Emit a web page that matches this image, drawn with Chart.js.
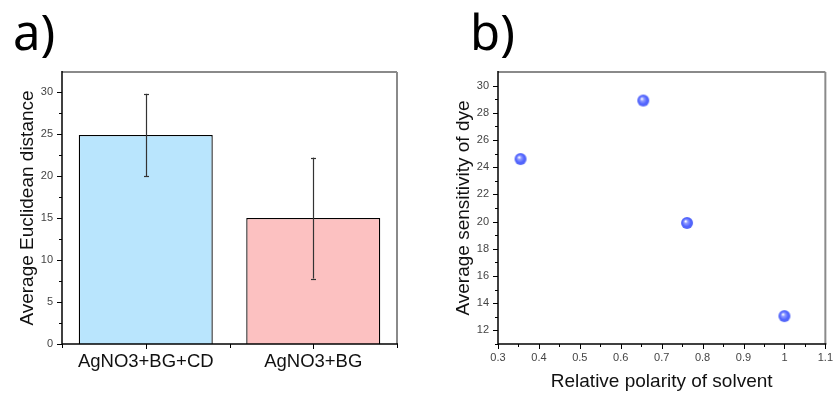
<!DOCTYPE html>
<html><head><meta charset="utf-8">
<script src="https://cdn.jsdelivr.net/npm/chart.js@4.4.1/dist/chart.umd.min.js"></script>
<style>
html,body{margin:0;padding:0;background:#fff;}
#wrap{position:relative;width:840px;height:394px;overflow:hidden;background:#fff;}
.c{position:absolute;top:0;width:420px;height:394px;}
.lab{position:absolute;font-family:"Noto Sans";font-size:49px;line-height:50px;color:#000;}
</style></head><body>
<div id="wrap">
<div class="c" style="left:0"><canvas id="ca" width="420" height="394"></canvas></div>
<div class="c" style="left:420px"><canvas id="cb" width="420" height="394"></canvas></div>
<div class="lab" style="left:13px;top:6px">a)</div>
<div class="lab" style="left:470px;top:6px">b)</div>
</div>
<script>
// ---- data ----
const barCategories = ['AgNO3+BG+CD', 'AgNO3+BG'];
const barValues = [24.9, 15.0];
const barErrors = [4.9, 7.2];
const barYTicks = [0, 5, 10, 15, 20, 25, 30];

const scatterX = [0.355, 0.655, 0.762, 1.0];
const scatterY = [24.6, 28.9, 19.9, 13.05];
const scatterXTicks = [0.3, 0.4, 0.5, 0.6, 0.7, 0.8, 0.9, 1.0, 1.1];
const scatterXTickLabels = ['0.3', '0.4', '0.5', '0.6', '0.7', '0.8', '0.9', '1', '1.1'];
const scatterYTicks = [12, 14, 16, 18, 20, 22, 24, 26, 28, 30];

const tickFont = {family: '"Liberation Sans", Arial, sans-serif', size: 11};
const titleFont = {family: '"Liberation Sans", Arial, sans-serif', size: 19};

// sphere point image
function sphere(r) {
  const c = document.createElement('canvas');
  c.width = c.height = 2 * r + 2;
  const g = c.getContext('2d');
  const cx = r + 1, cy = r + 1;
  const grad = g.createRadialGradient(cx - r * 0.25, cy - r * 0.3, 0.3, cx, cy, r);
  grad.addColorStop(0, '#ffffff');
  grad.addColorStop(0.28, '#8e9aff');
  grad.addColorStop(0.7, '#4f62ff');
  grad.addColorStop(1, '#5a6cf5');
  g.fillStyle = grad;
  g.beginPath(); g.arc(cx, cy, r, 0, Math.PI * 2); g.fill();
  return c;
}

function line(ctx, x1, y1, x2, y2) { ctx.beginPath(); ctx.moveTo(x1, y1); ctx.lineTo(x2, y2); ctx.stroke(); }

const frame = {
  id: 'frame',
  afterDraw(chart) {
    const {ctx, chartArea: a} = chart;
    ctx.save();
    ctx.strokeStyle = '#000'; ctx.lineWidth = 1;
    // y ticks
    const ys = chart.scales.y;
    const yv = ys.ticks.map(t => t.value);
    const dy = (v, len) => { const p = Math.round(ys.getPixelForValue(v)) + 0.5; if (p < a.top + 1 || p > a.bottom + 1) return; line(ctx, a.left - len, p, a.left, p); };
    yv.forEach(v => dy(v, 5));
    for (let i = 0; i < yv.length - 1; i++) dy((yv[i] + yv[i + 1]) / 2, 3);
    const step = yv[1] - yv[0];
    dy(yv[0] - step / 2, 3); dy(yv[yv.length - 1] + step / 2, 3);
    // x ticks
    const xs = chart.scales.x;
    const dx = (p, len) => { p = Math.round(p) + 0.5; line(ctx, p, a.bottom, p, a.bottom + len); };
    if (xs.type === 'category') {
      const n = xs.ticks.length;
      const w = (a.right - a.left) / n;
      for (let i = 0; i < n; i++) dx(xs.getPixelForValue(i), 5);
      for (let i = 0; i <= n; i++) dx(a.left + i * w, 4);
    } else {
      const xv = xs.ticks.map(t => t.value);
      xv.forEach(v => dx(xs.getPixelForValue(v), 5));
      for (let i = 0; i < xv.length - 1; i++) dx(xs.getPixelForValue((xv[i] + xv[i + 1]) / 2), 3);
    }
    // frame
    ctx.strokeStyle = '#8a8a8a'; ctx.lineWidth = 2;
    line(ctx, a.left, a.top, a.right, a.top);
    line(ctx, a.right, a.top, a.right, a.bottom);
    ctx.strokeStyle = '#000'; ctx.lineWidth = 1.5;
    line(ctx, a.left, a.top - 1, a.left, a.bottom);
    line(ctx, a.left, a.bottom, a.right + 1, a.bottom);
    ctx.restore();
  }
};

const errorBars = {
  id: 'errorBars',
  afterDatasetsDraw(chart) {
    const {ctx} = chart;
    const meta = chart.getDatasetMeta(0);
    const ys = chart.scales.y;
    ctx.save();
    ctx.strokeStyle = '#333'; ctx.lineWidth = 1.2;
    meta.data.forEach((bar, i) => {
      const x = Math.round(bar.x) + 0.5;
      const hi = ys.getPixelForValue(barValues[i] + barErrors[i]);
      const lo = ys.getPixelForValue(barValues[i] - barErrors[i]);
      line(ctx, x, hi, x, lo);
      line(ctx, x - 2.5, Math.round(hi) + 0.5, x + 2.5, Math.round(hi) + 0.5);
      line(ctx, x - 2.5, Math.round(lo) + 0.5, x + 2.5, Math.round(lo) + 0.5);
    });
    ctx.restore();
  }
};

const noGrid = {display: false, drawTicks: false};

// ---- chart a ----
new Chart(document.getElementById('ca'), {
  type: 'bar',
  data: {
    labels: barCategories,
    datasets: [{
      data: barValues,
      backgroundColor: ['#b9e5fd', '#fcc1c1'],
      borderColor: '#000',
      borderWidth: 1.3,
      barPercentage: 0.8,
      categoryPercentage: 1.0
    }]
  },
  options: {
    responsive: false, animation: false, devicePixelRatio: 1,
    layout: {padding: {top: 72, right: 23, left: 0, bottom: 0}},
    plugins: {legend: {display: false}, tooltip: {enabled: false}},
    scales: {
      x: {
        grid: noGrid, border: {display: false},
        afterFit(s) { s.height = 50; },
        ticks: {font: {family: '"Liberation Sans", Arial, sans-serif', size: 18.5}, color: '#111', padding: 7, maxRotation: 0}
      },
      y: {
        min: 0, max: 32.4,
        grid: noGrid, border: {display: false},
        afterFit(s) { s.width = 62; },
        afterBuildTicks(s) { s.ticks = barYTicks.map(v => ({value: v})); },
        ticks: {font: tickFont, color: '#444', padding: 9},
        title: {display: true, text: 'Average Euclidean distance', font: titleFont, color: '#111', padding: {top: 16, bottom: 0}}
      }
    }
  },
  plugins: [errorBars, frame]
});

// ---- chart b ----
const dot = sphere(6);
new Chart(document.getElementById('cb'), {
  type: 'scatter',
  data: {
    datasets: [{
      data: scatterX.map((x, i) => ({x: x, y: scatterY[i]})),
      pointStyle: dot,
      pointRadius: 6
    }]
  },
  options: {
    responsive: false, animation: false, devicePixelRatio: 1,
    layout: {padding: {top: 72, right: 6, left: 0, bottom: 0}},
    plugins: {legend: {display: false}, tooltip: {enabled: false}},
    scales: {
      x: {
        type: 'linear', min: 0.3, max: 1.1,
        grid: noGrid, border: {display: false},
        afterFit(s) { s.height = 50; },
        afterBuildTicks(s) { s.ticks = scatterXTicks.map(v => ({value: v})); },
        ticks: {font: tickFont, color: '#444', padding: 7, maxRotation: 0, autoSkip: false,
          callback: (v, i) => scatterXTickLabels[i]},
        title: {display: true, text: 'Relative polarity of solvent', font: titleFont, color: '#111', padding: {top: 0, bottom: 1}}
      },
      y: {
        min: 11, max: 31,
        grid: noGrid, border: {display: false},
        afterFit(s) { s.width = 78; },
        afterBuildTicks(s) { s.ticks = scatterYTicks.map(v => ({value: v})); },
        ticks: {font: tickFont, color: '#444', padding: 9},
        title: {display: true, text: 'Average sensitivity of dye', font: titleFont, color: '#111', padding: {top: 32, bottom: 0}}
      }
    }
  },
  plugins: [frame]
});
</script>
</body></html>
